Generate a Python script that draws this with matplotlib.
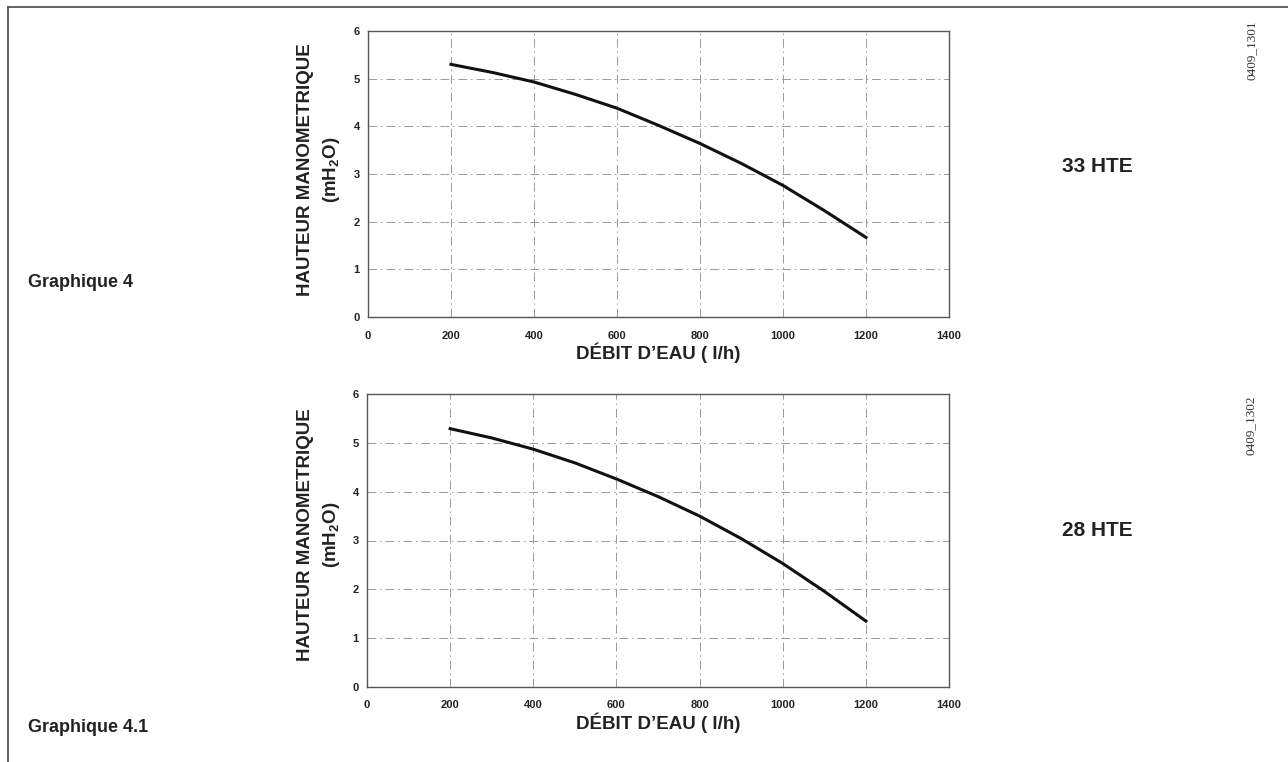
import numpy as np
import matplotlib
matplotlib.use("Agg")
import matplotlib.pyplot as plt
from matplotlib.lines import Line2D

plt.rcParams["font.family"] = ["Liberation Sans", "DejaVu Sans"]
plt.rcParams["mathtext.fontset"] = "custom"
plt.rcParams["mathtext.rm"] = "Liberation Sans:bold"

# debit (l/h) and head (mH2O)
debit = [200, 300, 400, 500, 600, 700, 800, 900, 1000, 1100, 1200]
hauteur_33 = [5.30, 5.13, 4.93, 4.67, 4.38, 4.02, 3.64, 3.22, 2.76, 2.23, 1.67]
hauteur_28 = [5.29, 5.10, 4.87, 4.59, 4.26, 3.90, 3.50, 3.04, 2.53, 1.96, 1.35]

x_ticks = [0, 200, 400, 600, 800, 1000, 1200, 1400]
y_ticks = [0, 1, 2, 3, 4, 5, 6]

W, H = 1288, 762
fig = plt.figure(figsize=(W / 100, H / 100), dpi=100)
TXT = "#222222"


def px_axes(left, top, right, bottom):
    return fig.add_axes([left / W, 1 - bottom / H, (right - left) / W, (bottom - top) / H])


def draw_chart(ax, y, xpad, lpad):
    ax.plot(debit, y, color="#111111", lw=2.2, zorder=3)
    ax.set_xlim(0, 1400)
    ax.set_ylim(0, 6)
    ax.set_xticks(x_ticks)
    ax.set_yticks(y_ticks)
    ax.set_xticklabels([str(t) for t in x_ticks], fontsize=8, fontweight="bold", color=TXT)
    ax.set_yticklabels([str(t) for t in y_ticks], fontsize=8, fontweight="bold", color=TXT)
    ax.tick_params(axis="x", length=0, pad=xpad)
    ax.tick_params(axis="y", length=0, pad=6)
    ax.grid(True, color="#999999", lw=0.7, linestyle=(0, (9, 4, 1.5, 4)))
    for s in ax.spines.values():
        s.set_color("#555555")
        s.set_linewidth(1.0)
    ax.set_xlabel("DÉBIT D’EAU ( l/h)", fontsize=13.5, fontweight="bold",
                  color=TXT, labelpad=lpad)


ax1 = px_axes(368, 31, 949, 317)
draw_chart(ax1, hauteur_33, 10, 1)
ax2 = px_axes(367, 394, 949, 687)
draw_chart(ax2, hauteur_28, 9, 2)

# y labels (two lines)
for yc in (170, 535):
    fig.text(305 / W, 1 - yc / H, "HAUTEUR MANOMETRIQUE", rotation=90,
             ha="center", va="center", fontsize=13.5, fontweight="bold", color=TXT)
    fig.text(331 / W, 1 - yc / H, r"(mH$_\mathrm{2}$O)", rotation=90,
             ha="center", va="center", fontsize=13.5, fontweight="bold", color=TXT)

fig.text(1097 / W, 1 - 167 / H, "33 HTE", ha="center", va="center",
         fontsize=15, fontweight="bold", color=TXT)
fig.text(1097 / W, 1 - 530 / H, "28 HTE", ha="center", va="center",
         fontsize=15, fontweight="bold", color=TXT)

fig.text(28 / W, 1 - 283 / H, "Graphique 4", ha="left", va="center",
         fontsize=13, fontweight="bold", color=TXT)
fig.text(28 / W, 1 - 728 / H, "Graphique 4.1", ha="left", va="center",
         fontsize=13, fontweight="bold", color=TXT)

fig.text(1252 / W, 1 - 50 / H, "0409_1301", rotation=90, ha="center", va="center",
         fontsize=9.5, family="Liberation Serif", color="#333333")
fig.text(1251 / W, 1 - 425 / H, "0409_1302", rotation=90, ha="center", va="center",
         fontsize=9.5, family="Liberation Serif", color="#333333")

# page frame: top and left rules
fig.add_artist(Line2D([8 / W, 1], [1 - 7 / H, 1 - 7 / H], color="#555555", lw=1.3,
                      transform=fig.transFigure))
fig.add_artist(Line2D([8 / W, 8 / W], [0, 1 - 7 / H], color="#555555", lw=1.3,
                      transform=fig.transFigure))

fig.savefig("out.png", dpi=100)
